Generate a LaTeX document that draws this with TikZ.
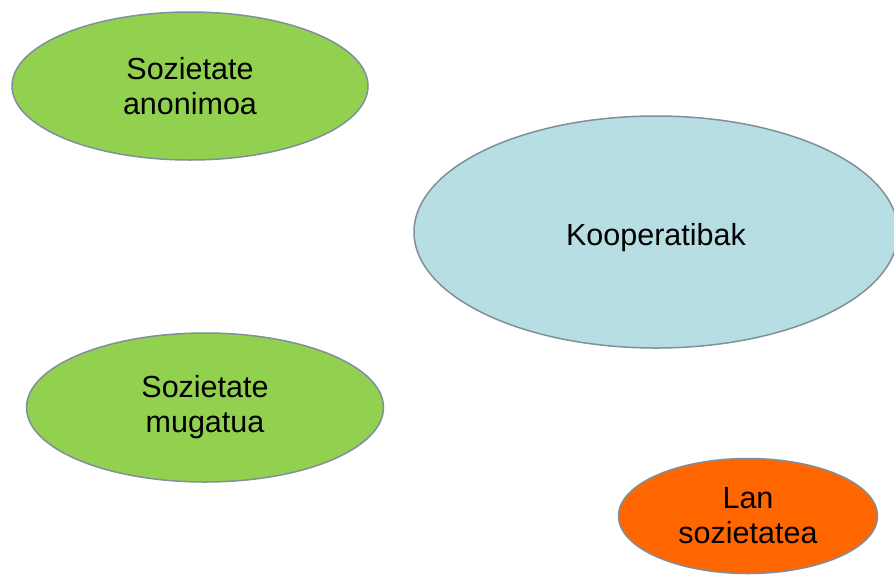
\documentclass[tikz,border=0pt]{standalone}
\usepackage{fontspec}
\setmainfont{Liberation Sans}
\usetikzlibrary{shapes.geometric}
\definecolor{leaf}{HTML}{92D050}
\definecolor{sky}{HTML}{B7DEE3}
\definecolor{flame}{HTML}{FF6600}
\definecolor{rim}{HTML}{7F8F9C}
\tikzset{
  oval/.style={ellipse, draw=rim, line width=1.5pt, inner sep=0pt,
    align=center, font=\fontsize{30.5}{35}\selectfont, text=black},
}
\begin{document}
\begin{tikzpicture}[x=1pt,y=-1pt]
  \useasboundingbox (0,0) rectangle (894,574);
  \node[oval, fill=leaf, minimum width=356pt, minimum height=148pt] (anon) at (190,86) {Sozietate\\anonimoa};
  \node[oval, fill=sky, minimum width=484pt, minimum height=232pt] (koop) at (656,232) {\raisebox{-13pt}[0pt][0pt]{Kooperatibak}};
  \node[oval, fill=leaf, minimum width=357pt, minimum height=149pt] (muga) at (205,407.5) {Sozietate\\mugatua};
  \node[oval, fill=flame, minimum width=259pt, minimum height=115pt] (lan) at (748,516) {Lan\\sozietatea};
\end{tikzpicture}
\end{document}
